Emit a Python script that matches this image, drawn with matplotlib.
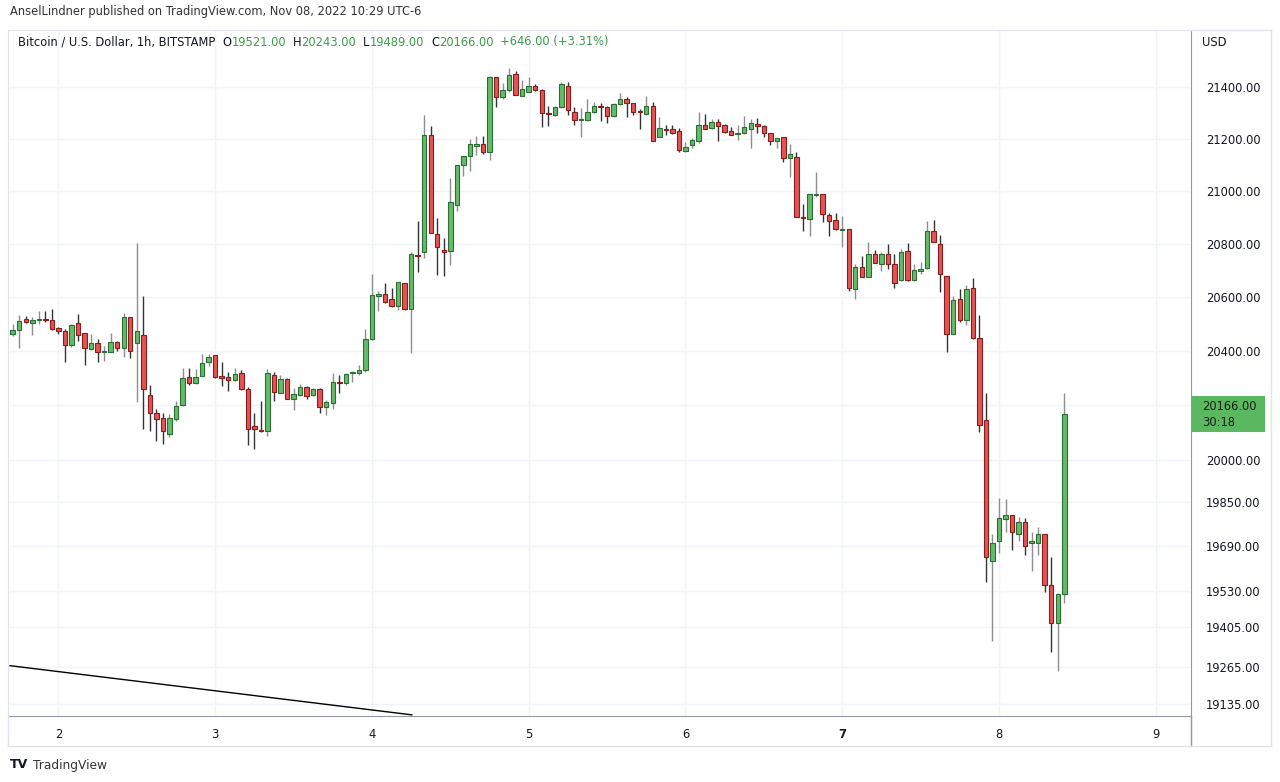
import pandas as pd
import matplotlib.pyplot as plt
from matplotlib.patches import Rectangle
from matplotlib.lines import Line2D
from matplotlib.ticker import NullLocator, FixedLocator, FuncFormatter

# hourly BTC/USD candles, Nov 1 17:00 -> Nov 8 10:00 (UTC-6)
start = "2022-11-01 17:00"
opens = [20463, 20478, 20519, 20504, 20515, 20519, 20515, 20485, 20474, 20422,
         20504, 20467, 20408, 20430, 20397, 20397, 20434, 20411, 20526, 20430,
         20459, 20238, 20172, 20153, 20095, 20150, 20201, 20304, 20282, 20308,
         20360, 20385, 20308, 20304, 20293, 20319, 20260, 20124, 20110, 20106,
         20311, 20245, 20297, 20223, 20238, 20267, 20238, 20260, 20194, 20208,
         20286, 20282, 20319, 20319, 20330, 20445, 20604, 20612, 20593, 20567,
         20653, 20556, 20758, 20769, 21214, 20837, 20777, 20773, 20947, 21099,
         21134, 21172, 21180, 21149, 21439, 21361, 21388, 21451, 21365, 21381,
         21404, 21388, 21299, 21292, 21323, 21404, 21303, 21272, 21272, 21303,
         21326, 21323, 21288, 21334, 21354, 21338, 21307, 21295, 21326, 21207,
         21238, 21238, 21230, 21153, 21176, 21191, 21253, 21241, 21264, 21253,
         21230, 21218, 21222, 21238, 21257, 21249, 21222, 21191, 21207, 21126,
         21130, 20901, 20894, 20985, 20989, 20909, 20890, 20852, 20856, 20631,
         20713, 20676, 20762, 20724, 20762, 20724, 20664, 20773, 20664, 20698,
         20709, 20848, 20799, 20679, 20463, 20593, 20515, 20634, 20448, 20146,
         19636, 19707, 19789, 19803, 19735, 19778, 19700, 19700, 19732, 19551,
         19418, 19521]
highs = [20500, 20534, 20530, 20526, 20548, 20548, 20556, 20489, 20482, 20500,
         20537, 20467, 20463, 20445, 20419, 20467, 20437, 20541, 20526, 20803,
         20604, 20275, 20186, 20172, 20168, 20216, 20337, 20337, 20334, 20389,
         20389, 20385, 20360, 20323, 20337, 20330, 20267, 20172, 20216, 20334,
         20323, 20311, 20300, 20264, 20278, 20271, 20264, 20264, 20219, 20319,
         20311, 20319, 20326, 20349, 20482, 20687, 20623, 20653, 20634, 20657,
         20653, 20769, 20886, 21292, 21249, 20897, 20822, 21050, 21099, 21134,
         21199, 21211, 21211, 21443, 21439, 21415, 21474, 21462, 21427, 21439,
         21411, 21392, 21326, 21326, 21419, 21419, 21323, 21319, 21354, 21342,
         21338, 21326, 21338, 21377, 21361, 21338, 21315, 21365, 21342, 21284,
         21253, 21253, 21241, 21188, 21203, 21303, 21295, 21276, 21276, 21257,
         21245, 21253, 21288, 21276, 21280, 21253, 21222, 21203, 21207, 21180,
         21149, 20951, 20989, 21073, 20989, 20916, 20916, 20905, 20856, 20724,
         20754, 20807, 20777, 20769, 20799, 20762, 20780, 20803, 20724, 20732,
         20886, 20890, 20833, 20679, 20604, 20630, 20645, 20672, 20534, 20245,
         19735, 19864, 19860, 19803, 19796, 19792, 19739, 19757, 19732, 19650,
         19523, 20243]
lows = [20456, 20411, 20504, 20459, 20500, 20508, 20478, 20463, 20360, 20415,
        20437, 20349, 20404, 20360, 20363, 20397, 20400, 20378, 20374, 20212,
        20113, 20106, 20070, 20059, 20084, 20143, 20197, 20275, 20278, 20308,
        20345, 20300, 20271, 20252, 20289, 20256, 20055, 20040, 20102, 20088,
        20216, 20245, 20223, 20183, 20234, 20223, 20234, 20172, 20164, 20186,
        20245, 20275, 20286, 20311, 20323, 20441, 20548, 20578, 20563, 20552,
        20552, 20393, 20694, 20747, 20840, 20683, 20679, 20720, 20924, 21057,
        21076, 21138, 21142, 21119, 21323, 21354, 21381, 21369, 21365, 21381,
        21384, 21245, 21249, 21288, 21319, 21292, 21253, 21207, 21268, 21299,
        21268, 21261, 21284, 21330, 21284, 21292, 21238, 21292, 21191, 21207,
        21215, 21218, 21149, 21149, 21165, 21184, 21238, 21238, 21191, 21222,
        21215, 21195, 21218, 21165, 21222, 21207, 21176, 21165, 21111, 21053,
        20901, 20848, 20829, 20977, 20882, 20829, 20852, 20788, 20623, 20593,
        20676, 20676, 20728, 20698, 20705, 20634, 20660, 20660, 20660, 20687,
        20705, 20807, 20619, 20396, 20463, 20508, 20497, 20445, 20102, 19562,
        19355, 19664, 19739, 19678, 19707, 19657, 19600, 19657, 19527, 19317,
        19251, 19489]
closes = [20478, 20511, 20508, 20515, 20519, 20515, 20482, 20474, 20422, 20497,
          20459, 20411, 20430, 20397, 20400, 20434, 20411, 20526, 20400, 20474,
          20260, 20172, 20150, 20106, 20153, 20197, 20300, 20282, 20304, 20356,
          20378, 20304, 20300, 20293, 20315, 20260, 20113, 20113, 20106, 20319,
          20249, 20297, 20223, 20241, 20267, 20234, 20260, 20194, 20212, 20286,
          20282, 20315, 20323, 20330, 20445, 20608, 20612, 20582, 20567, 20657,
          20556, 20762, 20754, 21214, 20840, 20788, 20769, 20958, 21099, 21134,
          21180, 21180, 21149, 21439, 21361, 21388, 21447, 21369, 21392, 21404,
          21388, 21299, 21295, 21323, 21411, 21311, 21272, 21276, 21303, 21326,
          21323, 21288, 21334, 21354, 21338, 21303, 21303, 21326, 21191, 21241,
          21234, 21222, 21157, 21169, 21195, 21253, 21238, 21264, 21249, 21226,
          21215, 21222, 21245, 21261, 21249, 21222, 21191, 21203, 21126, 21142,
          20901, 20897, 20989, 20989, 20913, 20886, 20856, 20856, 20634, 20713,
          20676, 20762, 20728, 20762, 20724, 20653, 20769, 20664, 20702, 20705,
          20848, 20807, 20687, 20463, 20589, 20515, 20630, 20448, 20128, 19653,
          19703, 19792, 19803, 19739, 19778, 19692, 19710, 19732, 19551, 19418,
          19520, 20166]

price_ticks = [19135, 19265, 19405, 19530, 19690, 19850, 20000, 20200,
               20400, 20600, 20800, 21000, 21200, 21400]
day_labels = ["2", "3", "4", "5", "6", "7", "8", "9"]

# drawn trend line (bar offset, price)
trend_x = [-0.4, 61.1]
trend_y = [19268, 19097]

W, H = 1280, 782
GREEN, GREEN_EDGE = "#66bb6a", "#2b6e33"
RED, RED_EDGE = "#e25555", "#8a1c1c"
TXT = "#131722"

plt.rcParams['font.family'] = ['DejaVu Sans']

fig = plt.figure(figsize=(W / 100, H / 100), dpi=100)
fig.patch.set_facecolor("white")
ax = fig.add_axes([8 / W, 1 - 716 / H, (1191 - 8) / W, (716 - 30) / H])

times = pd.date_range(start, periods=len(closes), freq="h")
x = list(range(len(closes)))

up = [c >= o for o, c in zip(opens, closes)]
wick_col = ["#8e8e8e" if u else "#333333" for u in up]
ax.vlines(x, lows, highs, colors=wick_col, linewidth=1, zorder=2)
bottoms = [min(o, c) for o, c in zip(opens, closes)]
heights = [max(abs(c - o), 0.5) for o, c in zip(opens, closes)]
ax.bar(x, heights, bottom=bottoms, width=0.68,
       color=[GREEN if u else RED for u in up],
       edgecolor=[GREEN_EDGE if u else RED_EDGE for u in up],
       linewidth=0.8, zorder=3)

ax.plot(trend_x, trend_y, color="black", linewidth=1, zorder=4)

# axes / scale
ax.set_yscale("log")
ax.set_ylim(19093, 21622)
ax.set_xlim(-0.72, 180.4)
ax.yaxis.set_minor_locator(NullLocator())
ax.yaxis.set_major_locator(FixedLocator(price_ticks))
ax.yaxis.set_major_formatter(FuncFormatter(lambda v, p: f"{v:.2f}"))
ax.yaxis.tick_right()
ax.tick_params(axis="y", length=0, pad=11, labelsize=8.3, labelcolor=TXT)

days = pd.date_range("2022-11-02", periods=len(day_labels), freq="D")
day_pos = [(d - times[0]) / pd.Timedelta(hours=1) for d in days]
ax.set_xticks(day_pos)
ax.set_xticklabels(day_labels)
ax.tick_params(axis="x", length=0, pad=9, labelsize=8.3, labelcolor=TXT)
for lbl, d in zip(ax.get_xticklabels(), days):
    if d.dayofweek == 0:
        lbl.set_fontweight("bold")

ax.grid(True, color="#f0f3fa", linewidth=1, zorder=0)
ax.set_axisbelow(True)
for side in ["top", "left"]:
    ax.spines[side].set_color("#e0e3eb")
for side in ["right", "bottom"]:
    ax.spines[side].set_color("#9598a1")

# outer frame pieces
fig.add_artist(Line2D([1191 / W, 1191 / W], [1 - 716 / H, 1 - 746 / H], color="#9598a1", lw=1))
fig.add_artist(Line2D([1191 / W, 1271 / W], [1 - 30 / H, 1 - 30 / H], color="#e0e3eb", lw=1))
fig.add_artist(Line2D([1271 / W, 1271 / W], [1 - 30 / H, 1 - 746 / H], color="#e0e3eb", lw=1))
fig.add_artist(Line2D([8 / W, 8 / W], [1 - 716 / H, 1 - 746 / H], color="#e0e3eb", lw=1))
fig.add_artist(Line2D([8 / W, 1271 / W], [1 - 746 / H, 1 - 746 / H], color="#e0e3eb", lw=1))

# texts
fig.text(10 / W, 1 - 12 / H, "AnselLindner published on TradingView.com, Nov 08, 2022 10:29 UTC-6",
         fontsize=8.3, color="#333333", va="center")
fig.text(1202 / W, 1 - 42 / H, "USD", fontsize=8.3, color=TXT, va="center")

hdr_green = "#3f9a4c"
chg = closes[-1] - closes[-2]
segments = [("Bitcoin / U.S. Dollar, 1h, BITSTAMP", TXT, 0),
            ("O", TXT, 5), (f"{opens[-1]:.2f}", hdr_green, 0),
            ("H", TXT, 5), (f"{highs[-1]:.2f}", hdr_green, 0),
            ("L", TXT, 5), (f"{lows[-1]:.2f}", hdr_green, 0),
            ("C", TXT, 5), (f"{closes[-1]:.2f}", hdr_green, 0),
            (f"+{chg:.2f} (+{chg / closes[-2] * 100:.2f}%)", hdr_green, 5)]
prev = fig.text(18 / W, 1 - 42 / H, segments[0][0], fontsize=8.3, color=segments[0][1], va="center")
for s, col, gap in segments[1:]:
    prev = ax.annotate(s, xy=(1, 0), xycoords=prev, xytext=(gap, 0), textcoords="offset points",
                       fontsize=8.3, color=col, va="bottom", ha="left", annotation_clip=False)

# last price label on the price scale
fig.canvas.draw()
y_disp = ax.transData.transform((0, closes[-1]))[1]
fy = y_disp / fig.bbox.height
fig.add_artist(Rectangle((1192 / W, fy - 18 / H), 73 / W, 36 / H, transform=fig.transFigure,
                         facecolor="#5cb860", edgecolor="none", zorder=5))
fig.text(1202 / W, fy + 8 / H, f"{closes[-1]:.2f}", fontsize=8.3, color="#102010", va="center", zorder=6)
fig.text(1202 / W, fy - 8 / H, "30:18", fontsize=8.3, color="#102010", va="center", zorder=6)

# logo
fig.text(10 / W, 1 - 765 / H, "TV", fontsize=9, fontweight="heavy", color=TXT, va="center")
fig.text(33 / W, 1 - 765 / H, "TradingView", fontsize=8.8, color="#333333", va="center")

fig.savefig("out.png", dpi=100)
